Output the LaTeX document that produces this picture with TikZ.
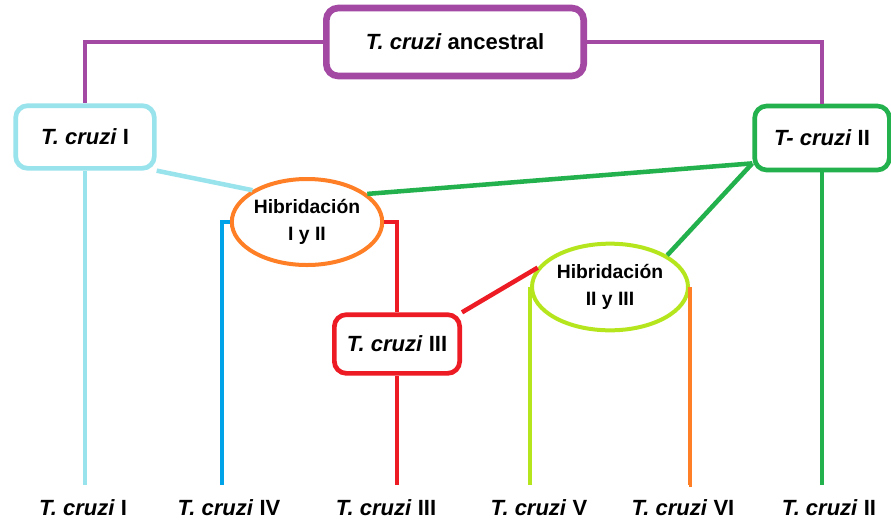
\documentclass[tikz,border=0pt]{standalone}
\usepackage{fontspec}
\setmainfont{Liberation Sans}
\usetikzlibrary{shapes.geometric}

\definecolor{lineagepurple}{HTML}{A349A4}
\definecolor{lineagecyan}{HTML}{99E3EC}
\definecolor{lineageblue}{HTML}{00A2E8}
\definecolor{lineageorange}{HTML}{FF7F27}
\definecolor{lineagered}{HTML}{ED1C24}
\definecolor{lineagegreen}{HTML}{22B14C}
\definecolor{lineagelime}{HTML}{B5E61D}

\tikzstyle{strain} = [
    rectangle, rounded corners=9pt,
    line width=3.5pt, fill=white,
    text centered, font=\fontsize{16.5}{19}\selectfont\bfseries
]
\tikzstyle{hybrid} = [
    ellipse, inner sep=0pt,
    line width=3pt, fill=white,
    align=center, font=\fontsize{14.5}{20.5}\selectfont\bfseries
]
\tikzstyle{leaf} = [inner sep=0pt, font=\fontsize{16.5}{19}\selectfont\bfseries]
\tikzstyle{link} = [line width=3.4pt]

\begin{document}
\begin{tikzpicture}[x=0.75pt, y=-0.75pt]
    \useasboundingbox (0,0) rectangle (891,522);

    \node (anc) [strain, draw=lineagepurple, line width=5pt,
        minimum width=193pt, minimum height=51pt] at (455,42) {\textit{T. cruzi} ancestral};
    \node (c1) [strain, draw=lineagecyan, minimum width=104pt, minimum height=47pt]
        at (85,137) {\textit{T. cruzi} I};
    \node (c2) [strain, draw=lineagegreen, minimum width=101pt, minimum height=48pt]
        at (822,138) {\textit{T- cruzi} II};
    \node (c3) [strain, draw=lineagered, minimum width=94pt, minimum height=44pt]
        at (397,344) {\textit{T. cruzi} III};
    \node (hib1) [hybrid, draw=lineageorange, minimum width=111pt, minimum height=64.5pt]
        at (307,222) {Hibridación\\I y II};
    \node (hib2) [hybrid, draw=lineagelime, minimum width=117pt, minimum height=65pt]
        at (610,287) {Hibridación\\II y III};

    \node (l1) [leaf] at (83,508) {\textit{T. cruzi} I};
    \node (l2) [leaf] at (229,508) {\textit{T. cruzi} IV};
    \node (l3) [leaf] at (386,508) {\textit{T. cruzi} III};
    \node (l4) [leaf] at (539,508) {\textit{T. cruzi} V};
    \node (l5) [leaf] at (683,508) {\textit{T. cruzi} VI};
    \node (l6) [leaf] at (829,508) {\textit{T. cruzi} II};

    \coordinate (e1) at (85,485);
    \coordinate (e2) at (222,485);
    \coordinate (e3) at (397,485);
    \coordinate (e4) at (530,485);
    \coordinate (e5) at (689,485);
    \coordinate (e6) at (822,485);

    \draw [link, draw=lineagepurple, line width=2.5pt] (anc.west) -| (c1.north);
    \draw [link, draw=lineagepurple, line width=2.5pt] (anc.east) -| (c2.north);

    \draw [link, draw=lineagecyan] (c1.south) -- (e1);
    \draw [link, draw=lineagecyan] (c1.south east) -- (hib1.north west);

    \draw [link, draw=lineageblue] (hib1.west) -| (e2);
    \draw [link, draw=lineagered] (hib1.east) -| (c3.north);
    \draw [link, draw=lineagered] (c3.south) -- (e3);
    \draw [link, draw=lineagered] (c3.north east) -- (hib2.165);

    \draw [link, draw=lineagegreen] (hib1.25) -- (c2.200);
    \draw [link, draw=lineagegreen] (c2.200) -- (hib2.29);
    \draw [link, draw=lineagegreen] (c2.south) -- (e6);

    \draw [link, draw=lineagelime] (hib2.west) |- (e4);
    \draw [link, draw=lineageorange] (hib2.east) |- (e5);
\end{tikzpicture}
\end{document}
